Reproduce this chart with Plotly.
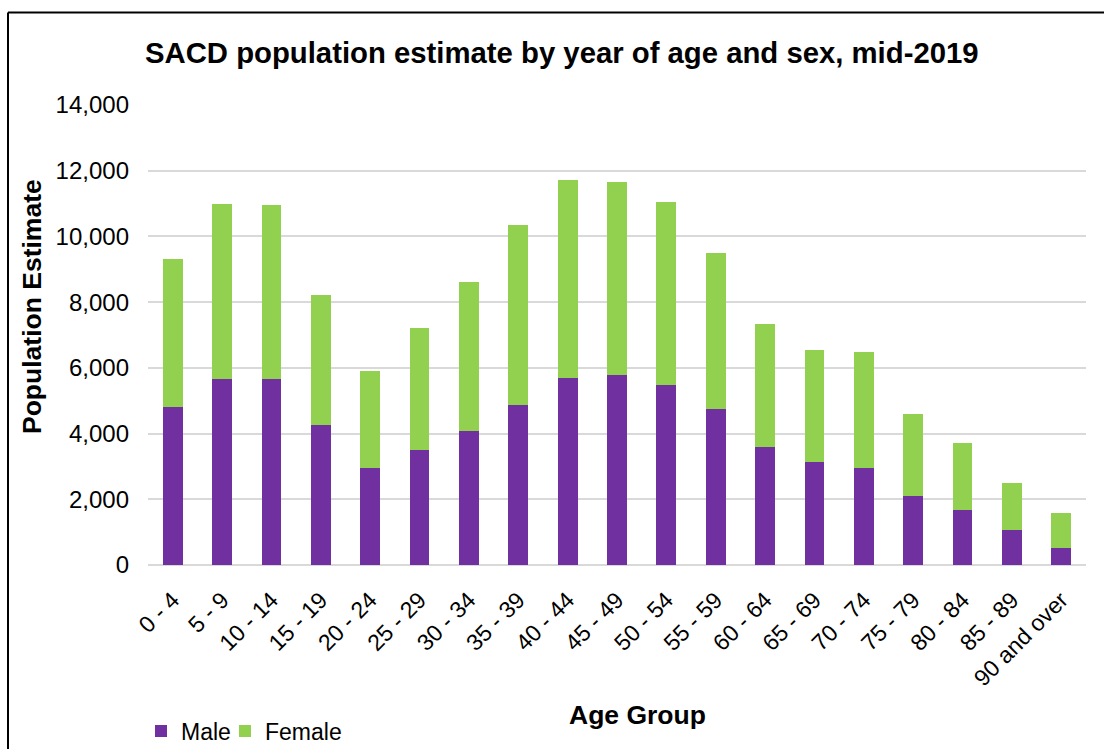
import plotly.graph_objects as go

# Age bands and mid-2019 population estimates by sex
age_groups = ["0 - 4", "5 - 9", "10 - 14", "15 - 19", "20 - 24", "25 - 29", "30 - 34",
              "35 - 39", "40 - 44", "45 - 49", "50 - 54", "55 - 59", "60 - 64", "65 - 69",
              "70 - 74", "75 - 79", "80 - 84", "85 - 89", "90 and over"]
male = [4800, 5660, 5660, 4250, 2950, 3510, 4070, 4860, 5690, 5780, 5490, 4740,
        3590, 3140, 2950, 2090, 1670, 1070, 520]
female = [4520, 5330, 5300, 3980, 2950, 3690, 4550, 5490, 6020, 5870, 5550, 4750,
          3760, 3400, 3520, 2500, 2040, 1440, 1050]

y_ticks = [0, 2000, 4000, 6000, 8000, 10000, 12000, 14000]
y_tick_text = ["0", "2,000", "4,000", "6,000", "8,000", "10,000", "12,000", "14,000"]

FONT = "Liberation Sans, Arial, sans-serif"
W, H = 1104, 749
ML, MR, MT, MB = 148, 18, 105, 184
PW, PH = W - ML - MR, H - MT - MB


def px_x(px):
    return (px - ML) / PW


def px_y(py):
    return (H - MB - py) / PH


fig = go.Figure()
fig.add_trace(go.Bar(x=age_groups, y=male, name="Male", legend="legend",
                     marker=dict(color="#7030A0", line=dict(width=0))))
fig.add_trace(go.Bar(x=age_groups, y=female, name="Female", legend="legend2",
                     marker=dict(color="#92D050", line=dict(width=0))))

legend_style = dict(orientation="h", yanchor="middle", xanchor="left",
                    font=dict(size=23, family=FONT), itemwidth=30,
                    bgcolor="rgba(0,0,0,0)")

fig.update_layout(
    width=W, height=H,
    margin=dict(l=ML, r=MR, t=MT, b=MB, pad=0, autoexpand=False),
    barmode="stack", bargap=0.6,
    paper_bgcolor="white", plot_bgcolor="white",
    font=dict(family=FONT, color="black"),
    showlegend=True,
    legend=dict(x=px_x(141), y=px_y(731), **legend_style),
    legend2=dict(x=px_x(225), y=px_y(731), **legend_style),
)

fig.update_xaxes(
    tickangle=-45, tickfont=dict(size=23, family=FONT), showgrid=False,
    showline=False, ticks="", ticklabelstandoff=16, automargin=False,
)
fig.update_yaxes(
    range=[0, 14000], tickvals=y_ticks, ticktext=y_tick_text,
    tickfont=dict(size=24, family=FONT), showgrid=True, gridcolor="#d9d9d9",
    gridwidth=2, zeroline=True, zerolinecolor="#d9d9d9", zerolinewidth=2,
    showline=False, ticks="", ticklabelstandoff=18, automargin=False,
)

# Titles
fig.add_annotation(text="<b>SACD population estimate by year of age and sex, mid-2019</b>",
                   xref="paper", yref="paper", x=px_x(561.5), y=px_y(52),
                   xanchor="center", yanchor="middle", showarrow=False,
                   font=dict(size=29.3, family=FONT, color="black"))
fig.add_annotation(text="<b>Population Estimate</b>", textangle=-90,
                   xref="paper", yref="paper", x=px_x(32), y=px_y(307),
                   xanchor="center", yanchor="middle", showarrow=False,
                   font=dict(size=26.5, family=FONT, color="black"))
fig.add_annotation(text="<b>Age Group</b>",
                   xref="paper", yref="paper", x=px_x(637), y=px_y(715),
                   xanchor="center", yanchor="middle", showarrow=False,
                   font=dict(size=26.5, family=FONT, color="black"))

# Chart frame (left and top edges)
fig.add_shape(type="line", xref="paper", yref="paper",
              x0=px_x(8), x1=px_x(8), y0=px_y(12.5), y1=px_y(760),
              line=dict(color="black", width=2))
fig.add_shape(type="line", xref="paper", yref="paper",
              x0=px_x(8), x1=px_x(1110), y0=px_y(12.5), y1=px_y(12.5),
              line=dict(color="black", width=2))

fig.write_html("out.html")
